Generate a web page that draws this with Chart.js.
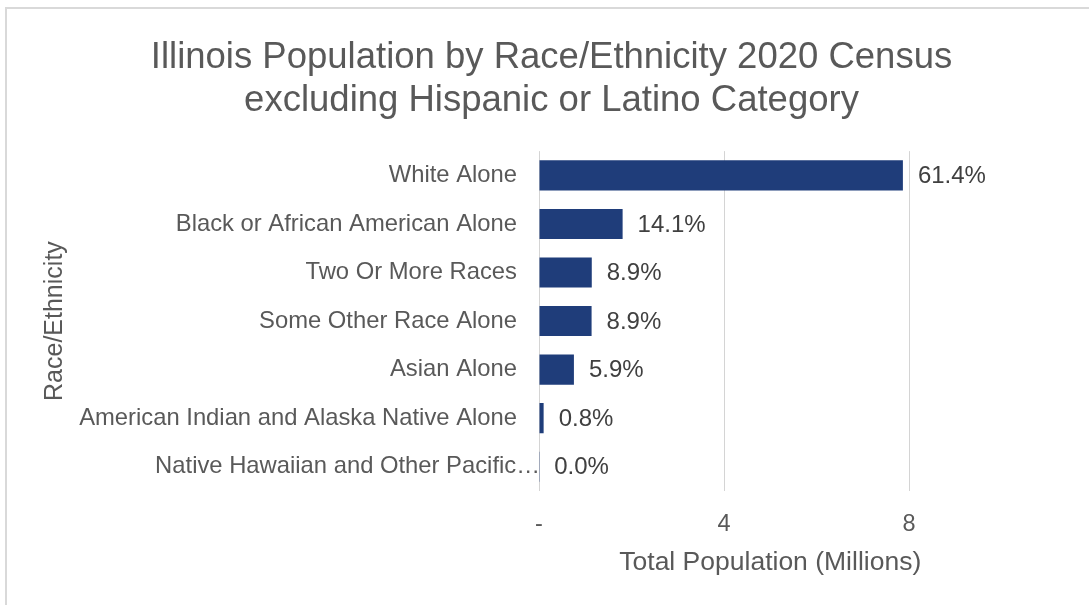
<!DOCTYPE html>
<html>
<head>
<meta charset="utf-8">
<script src="https://cdn.jsdelivr.net/npm/chart.js@4.4.1/dist/chart.umd.min.js"></script>
<style>
  html, body { margin: 0; padding: 0; background: #fff; }
  #wrap { position: relative; width: 1089px; height: 605px; }
  #frame { position: absolute; left: 5px; top: 7px; right: 0; bottom: 0; border-left: 2px solid #d9d9d9; border-top: 2px solid #d9d9d9; pointer-events: none; }
  canvas { position: absolute; left: 0; top: 0; }
</style>
</head>
<body>
<div id="wrap">
  <canvas id="c" width="1089" height="605"></canvas>
  <div id="frame"></div>
</div>
<script>
const categories = [
  "White Alone",
  "Black or African American Alone",
  "Two Or More Races",
  "Some Other Race Alone",
  "Asian Alone",
  "American Indian and Alaska Native Alone",
  "Native Hawaiian and Other Pacific…"
];
const populationMillions = [7.868, 1.808, 1.141, 1.137, 0.755, 0.100, 0.005];
const percentLabels = ["61.4%", "14.1%", "8.9%", "8.9%", "5.9%", "0.8%", "0.0%"];
const xTickValues = [0, 4, 8];
const xTickLabels = ["-", "4", "8"];

const FONT = "'Liberation Sans', Arial, sans-serif";

const dataLabelPlugin = {
  id: 'dataLabels',
  beforeDraw(chart) {
    // the truncated label runs up to the axis line in the original
    const yScale = chart.scales.y;
    const items = yScale.getLabelItems(chart.chartArea);
    items.forEach(it => {
      if (typeof it.label === 'string' && it.label.endsWith('…') && !it._shifted) {
        it.options.translation[0] += 23;
        it._shifted = true;
      }
    });
  },
  afterDatasetsDraw(chart) {
    const ctx = chart.ctx;
    const meta = chart.getDatasetMeta(0);
    ctx.save();
    ctx.font = "24px " + FONT;
    ctx.fillStyle = "#404040";
    ctx.textAlign = "left";
    ctx.textBaseline = "middle";
    meta.data.forEach((bar, i) => {
      ctx.fillText(percentLabels[i], bar.x + 15, bar.y + 1);
    });
    ctx.restore();
  }
};

new Chart(document.getElementById('c'), {
  type: 'bar',
  data: {
    labels: categories,
    datasets: [{
      data: populationMillions,
      backgroundColor: '#1f3d7a',
      borderWidth: 0,
      barPercentage: 0.62,
      categoryPercentage: 1.0
    }]
  },
  plugins: [dataLabelPlugin],
  options: {
    indexAxis: 'y',
    responsive: false,
    animation: false,
    devicePixelRatio: 1,
    layout: { padding: { left: 40, right: 26, top: 0, bottom: 26 } },
    plugins: {
      legend: { display: false },
      tooltip: { enabled: false },
      title: {
        display: true,
        text: ["Illinois Population by Race/Ethnicity 2020 Census", "excluding Hispanic or Latino Category"],
        color: '#595959',
        font: { family: FONT, size: 36.5, weight: 'normal', lineHeight: 1.18 },
        padding: { top: 36, bottom: 29 }
      }
    },
    scales: {
      x: {
        type: 'linear',
        min: 0,
        max: 10,
        afterBuildTicks(scale) {
          scale.ticks = xTickValues.map(v => ({ value: v }));
        },
        afterFit(scale) { scale.height = 88; },
        grid: { color: '#d4d4d4', lineWidth: 1, drawTicks: false },
        border: { display: false },
        ticks: {
          color: '#595959',
          font: { family: FONT, size: 23.5 },
          padding: 19,
          callback(value) {
            const i = xTickValues.indexOf(value);
            return i >= 0 ? xTickLabels[i] : null;
          }
        },
        title: {
          display: true,
          text: 'Total Population (Millions)',
          color: '#595959',
          font: { family: FONT, size: 26.5 },
          padding: { top: 0, bottom: 0 }
        }
      },
      y: {
        afterFit(scale) { scale.width = 499; },
        grid: { display: false, drawTicks: false },
        border: { display: false },
        ticks: {
          color: '#595959',
          font: { family: FONT, size: 23.8 },
          padding: 22,
          autoSkip: false
        },
        title: {
          display: true,
          text: 'Race/Ethnicity',
          color: '#595959',
          font: { family: FONT, size: 25 },
          padding: { top: 0, bottom: 0 }
        }
      },
      y2: {
        type: 'category',
        position: 'right',
        labels: categories,
        afterFit(scale) { scale.width = 61.5; },
        grid: { display: false, drawTicks: false },
        border: { display: false },
        ticks: { display: false }
      }
    }
  }
});
</script>
</body>
</html>
